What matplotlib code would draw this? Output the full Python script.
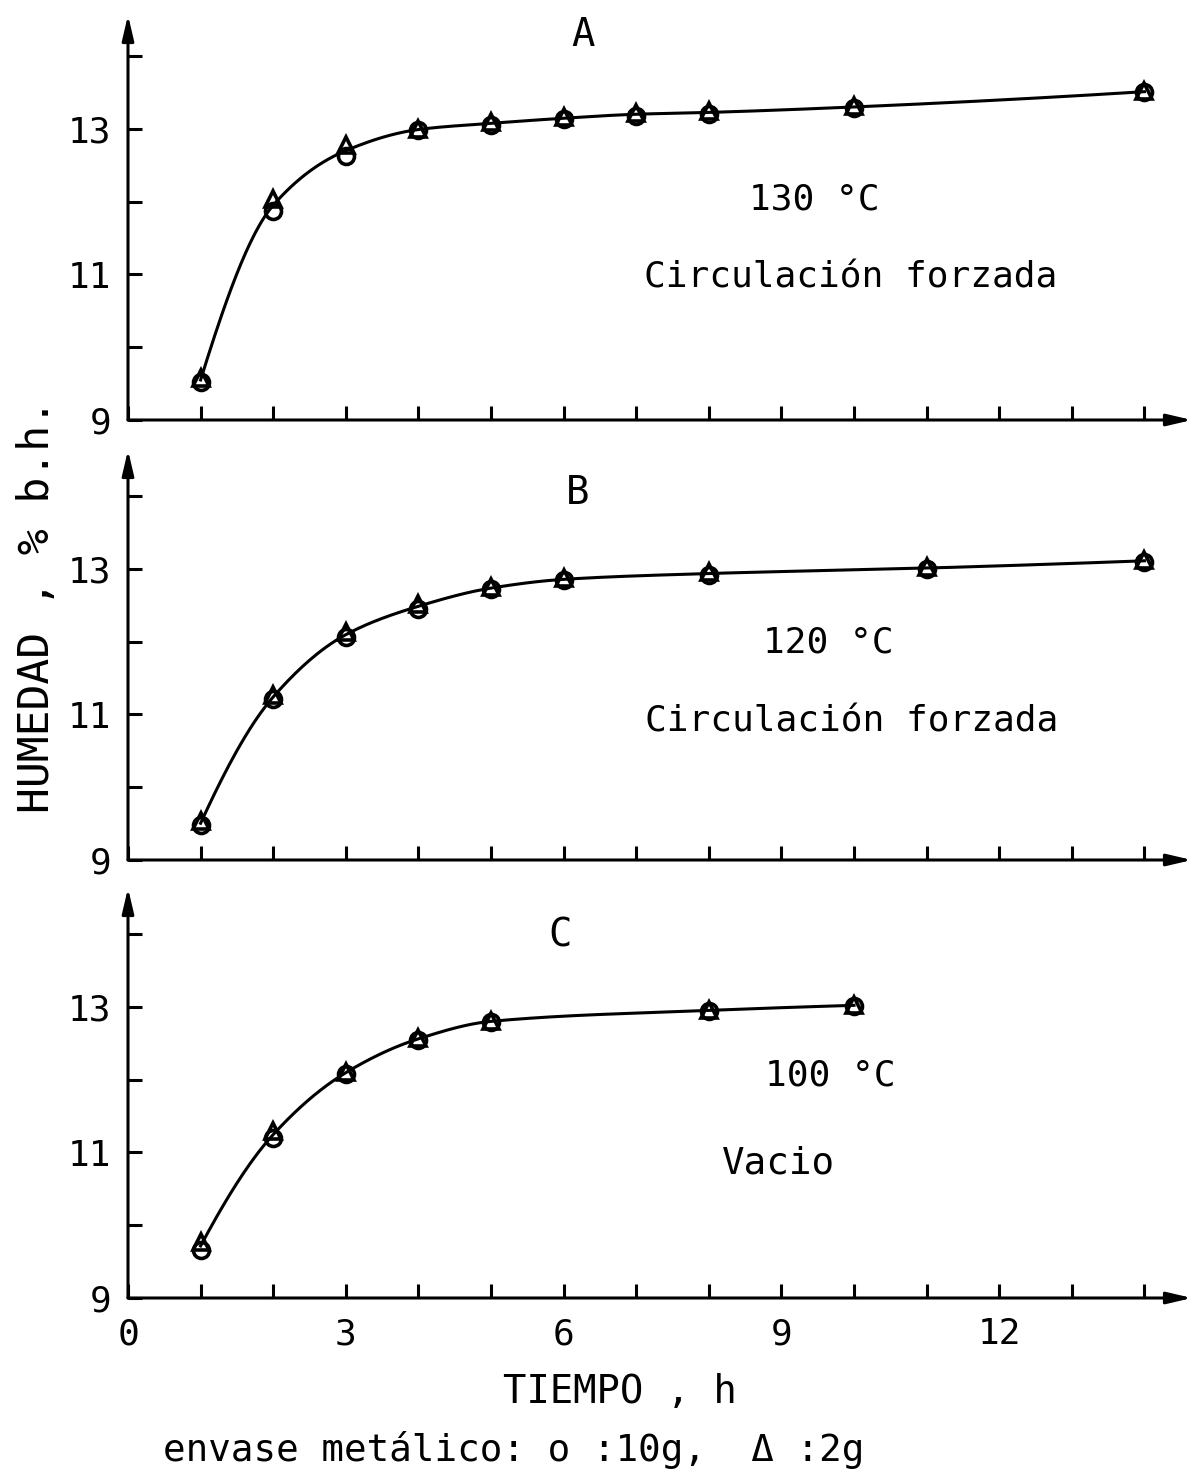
import numpy as np
import matplotlib
matplotlib.use("Agg")
from matplotlib import pyplot as plt

# humedad (% b.h.) frente al tiempo (h); o : 10 g, triangulo : 2 g
t_a = [1, 2, 3, 4, 5, 6, 7, 8, 10, 14]
a_10g = [9.52, 11.87, 12.62, 12.98, 13.05, 13.13, 13.18, 13.21, 13.29, 13.50]
a_2g = [9.58, 12.03, 12.78, 13.00, 13.10, 13.16, 13.22, 13.24, 13.31, 13.52]

t_b = [1, 2, 3, 4, 5, 6, 8, 11, 14]
b_10g = [9.48, 11.21, 12.06, 12.45, 12.72, 12.84, 12.92, 13.00, 13.10]
b_2g = [9.53, 11.27, 12.13, 12.52, 12.75, 12.87, 12.95, 13.02, 13.12]

t_c = [1, 2, 3, 4, 5, 8, 10]
c_10g = [9.66, 11.20, 12.08, 12.55, 12.79, 12.94, 13.01]
c_2g = [9.77, 11.29, 12.11, 12.57, 12.81, 12.96, 13.03]

paneles = [
    ("A", "130 °C", "Circulación forzada", t_a, a_10g, a_2g),
    ("B", "120 °C", "Circulación forzada", t_b, b_10g, b_2g),
    ("C", "100 °C", "Vacio", t_c, c_10g, c_2g),
]

W, H = 1201, 1474
FS = 26
LW = 2.2


def pchip(x, y, xs):
    # interpolacion cubica monotona (Fritsch-Carlson) para la curva suavizada
    x = np.asarray(x, float)
    y = np.asarray(y, float)
    h = np.diff(x)
    d = np.diff(y) / h
    n = len(x)
    m = np.zeros(n)
    for k in range(1, n - 1):
        if d[k - 1] * d[k] > 0:
            w1 = 2 * h[k] + h[k - 1]
            w2 = h[k] + 2 * h[k - 1]
            m[k] = (w1 + w2) / (w1 / d[k - 1] + w2 / d[k])
    m[0] = ((2 * h[0] + h[1]) * d[0] - h[0] * d[1]) / (h[0] + h[1])
    if m[0] * d[0] <= 0:
        m[0] = 0
    m[-1] = ((2 * h[-1] + h[-2]) * d[-1] - h[-1] * d[-2]) / (h[-1] + h[-2])
    if m[-1] * d[-1] <= 0:
        m[-1] = 0
    idx = np.clip(np.searchsorted(x, xs) - 1, 0, n - 2)
    s = (xs - x[idx]) / h[idx]
    h00 = 2 * s**3 - 3 * s**2 + 1
    h10 = s**3 - 2 * s**2 + s
    h01 = -2 * s**3 + 3 * s**2
    h11 = s**3 - s**2
    return h00 * y[idx] + h10 * h[idx] * m[idx] + h01 * y[idx + 1] + h11 * h[idx] * m[idx + 1]


plt.rcParams['font.family'] = ['DejaVu Sans Mono', 'DejaVu Sans']
fig = plt.figure(figsize=(W / 100, H / 100), dpi=100)

# (pixel del eje x, pixel del extremo superior del eje y)
ejes = [(420, 15), (860, 450), (1298, 888)]
x0, x1 = 128, 1192
flecha = dict(arrowstyle="-|>,head_length=1.5,head_width=0.35",
              lw=LW, color="black", shrinkA=0, shrinkB=0)

for i, (letra, temp, modo, t, y10, y2) in enumerate(paneles):
    yb, yt = ejes[i]
    ax = fig.add_axes([x0 / W, 1 - yb / H, (x1 - x0) / W, (yb - yt) / H])
    ax.set_xlim(0, (x1 - x0) / 72.6)
    ax.set_ylim(9, 9 + (yb - yt) / 72.8)
    for s in ("top", "right", "left", "bottom"):
        ax.spines[s].set_visible(False)

    # ejes con flecha en el extremo
    ax.annotate("", xy=(0, 1.0), xytext=(0, 0), xycoords="axes fraction",
                arrowprops=flecha, annotation_clip=False)
    ax.annotate("", xy=(1.0, 0), xytext=(0, 0), xycoords="axes fraction",
                arrowprops=flecha, annotation_clip=False)

    ax.set_yticks(range(9, 15))
    ax.set_yticklabels(["9", "", "11", "", "13", ""])
    ax.set_xticks(range(0, 15))
    if i == 2:
        ax.set_xticklabels([str(v) if v % 3 == 0 else "" for v in range(0, 15)])
    else:
        ax.set_xticklabels([])
    ax.tick_params(direction="in", length=10, width=LW, labelsize=FS)
    ax.tick_params(axis="y", pad=12)
    ax.tick_params(axis="x", pad=14)

    ym = (np.array(y10) + np.array(y2)) / 2
    xs = np.linspace(t[0], t[-1], 400)
    ax.plot(xs, pchip(t, ym, xs), color="black", lw=LW, zorder=2)
    ax.plot(t, y10, "o", ms=11.5, mfc="none", mec="black", mew=2.6, zorder=3)
    ax.plot(t, y2, "^", ms=11.5, mfc="none", mec="black", mew=2.6, zorder=3)

fig.text(583 / W, 1 - 35 / H, "A", fontsize=FS + 2, ha="center", va="center")
fig.text(814 / W, 1 - 200 / H, "130 °C", fontsize=FS, ha="center", va="center")
fig.text(851 / W, 1 - 277 / H, "Circulación forzada", fontsize=FS, ha="center", va="center")

fig.text(578 / W, 1 - 493 / H, "B", fontsize=FS + 2, ha="center", va="center")
fig.text(828 / W, 1 - 643 / H, "120 °C", fontsize=FS, ha="center", va="center")
fig.text(852 / W, 1 - 722 / H, "Circulación forzada", fontsize=FS, ha="center", va="center")

fig.text(560 / W, 1 - 935 / H, "C", fontsize=FS + 2, ha="center", va="center")
fig.text(830 / W, 1 - 1075 / H, "100 °C", fontsize=FS, ha="center", va="center")
fig.text(779 / W, 1 - 1163 / H, "Vacio", fontsize=FS + 1, ha="center", va="center")

fig.text(37 / W, 1 - 606 / H, "HUMEDAD , % b.h.", fontsize=FS + 5, rotation=90,
         ha="center", va="center")
fig.text(620 / W, 1 - 1392 / H, "TIEMPO , h", fontsize=FS + 2, ha="center", va="center")
fig.text(163 / W, 1 - 1450 / H, "envase metálico: o :10g,  Δ :2g", fontsize=FS + 1,
         ha="left", va="center")

fig.savefig("out.png", dpi=100)
